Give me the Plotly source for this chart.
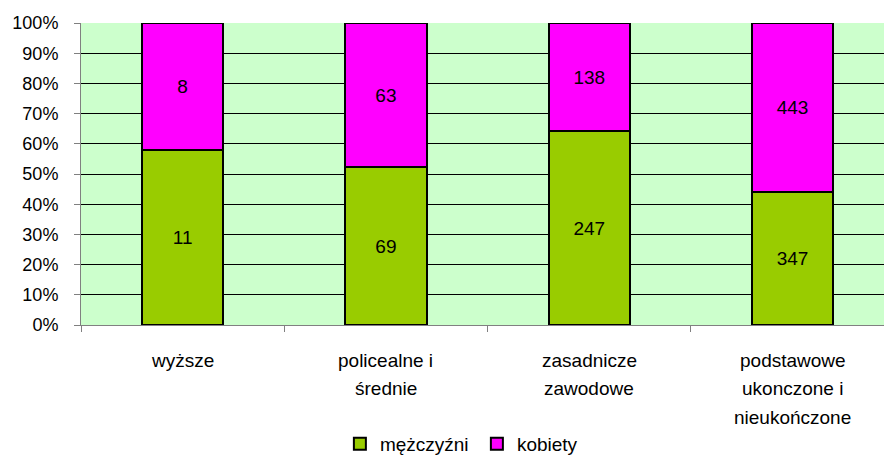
import plotly.graph_objects as go

categories = ["wyższe", "policealne i<br>średnie", "zasadnicze<br>zawodowe", "podstawowe<br>ukonczone i<br>nieukończone"]
men = [11, 69, 247, 347]
women = [8, 63, 138, 443]
y_ticks = list(range(0, 101, 10))
y_tick_labels = [f"{v}%" for v in y_ticks]

FONT = "Liberation Sans, Arial, sans-serif"
x_idx = list(range(len(categories)))

fig = go.Figure()
fig.add_trace(go.Bar(
    x=x_idx, y=men, name="mężczyźni", text=[str(v) for v in men],
    marker=dict(color="#99CC00", line=dict(color="black", width=2)),
    textposition="inside", insidetextanchor="middle",
    textfont=dict(family=FONT, size=19, color="black"),
    width=0.40, hoverinfo="skip",
))
fig.add_trace(go.Bar(
    x=x_idx, y=women, name="kobiety", text=[str(v) for v in women],
    marker=dict(color="#FF00FF", line=dict(color="black", width=2)),
    textposition="inside", insidetextanchor="middle",
    textfont=dict(family=FONT, size=19, color="black"),
    width=0.40, hoverinfo="skip",
))

annotations = []
for i, lab in enumerate(categories):
    for j, line in enumerate(lab.split("<br>")):
        annotations.append(dict(
            x=i, xref="x", y=0, yref="paper", text=line, showarrow=False,
            yshift=-(35 + 28.5 * j), yanchor="middle", xanchor="center",
            font=dict(family=FONT, size=19, color="black"),
        ))

fig.update_layout(
    width=884, height=456,
    margin=dict(l=81, r=0, t=23, b=131),
    barmode="stack", barnorm="percent",
    plot_bgcolor="#CCFFCC", paper_bgcolor="white",
    font=dict(family=FONT, size=19, color="black"),
    showlegend=True,
    legend=dict(
        orientation="h", x=285 / 884, xanchor="left",
        y=1 - 444 / 456, yanchor="middle", yref="container",
        font=dict(family=FONT, size=19, color="black"),
        entrywidth=92, entrywidthmode="pixels", traceorder="normal",
        bgcolor="rgba(0,0,0,0)",
    ),
    xaxis=dict(
        range=[-0.5, 3.45], showgrid=False, showticklabels=False,
        ticks="outside", ticklen=6, tickcolor="#808080",
        tickvals=[-0.5, 0.5, 1.5, 2.5], showline=True, linecolor="#808080",
        linewidth=1, zeroline=False,
    ),
    yaxis=dict(
        range=[0, 100], tickvals=y_ticks, ticktext=y_tick_labels,
        showgrid=True, gridcolor="black", gridwidth=1,
        ticks="outside", ticklen=6, tickcolor="#808080",
        showline=True, linecolor="#808080", linewidth=1,
        zeroline=False, ticklabelstandoff=12,
        tickfont=dict(family=FONT, size=18, color="black"),
    ),
    annotations=annotations,
)

fig.write_html(
    "out.html",
    config={"displayModeBar": False},
    post_script="document.body.style.margin='0';document.body.style.overflow='hidden';",
)
